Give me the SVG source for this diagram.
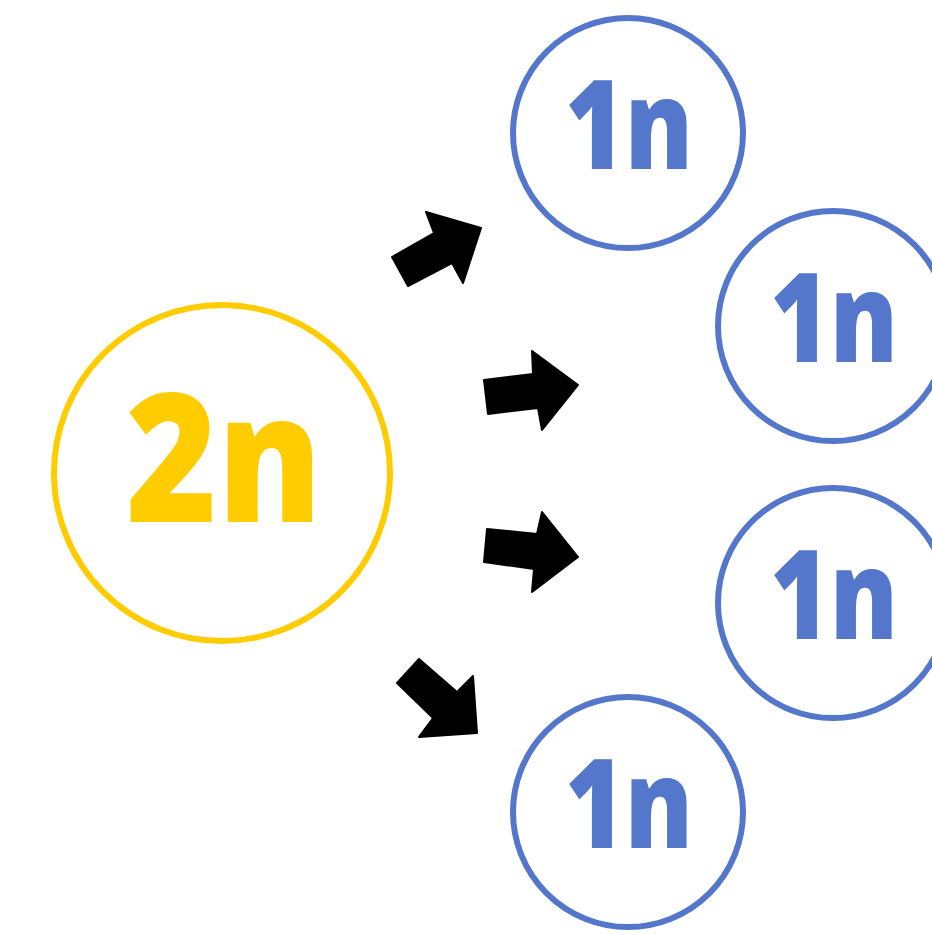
<svg xmlns="http://www.w3.org/2000/svg" width="932" height="935" viewBox="0 0 932 935">
<style>
.big{fill:none;stroke:#FFCC00;stroke-width:6}
.small{fill:none;stroke:#5577CB;stroke-width:6}
.t{font-family:"Noto Sans","Open Sans",sans-serif;font-weight:900;text-anchor:middle}
.ty{fill:#FFCC00;font-size:180px}
.tb{fill:#5577CB;font-size:124px}
.arr{fill:#000;stroke:#000;stroke-width:2;stroke-linejoin:round}
</style>
<rect width="932" height="935" fill="#fff"/>
<g id="n2n">
<circle class="big" cx="222" cy="473" r="168"/>
<text class="t ty" x="224" y="522" textLength="196" lengthAdjust="spacingAndGlyphs">2n</text>
</g>
<g id="n1a">
<circle class="small" cx="628" cy="133" r="115"/>
<text class="t tb" x="629" y="169" textLength="128" lengthAdjust="spacingAndGlyphs">1n</text>
</g>
<g id="n1b">
<circle class="small" cx="833" cy="326" r="115"/>
<text class="t tb" x="834" y="362" textLength="128" lengthAdjust="spacingAndGlyphs">1n</text>
</g>
<g id="n1c">
<circle class="small" cx="833" cy="603" r="115"/>
<text class="t tb" x="834" y="639" textLength="128" lengthAdjust="spacingAndGlyphs">1n</text>
</g>
<g id="n1d">
<circle class="small" cx="628" cy="812" r="115"/>
<text class="t tb" x="629" y="848" textLength="128" lengthAdjust="spacingAndGlyphs">1n</text>
</g>
<g id="connectors">
<polygon class="arr" points="392,257 434,233 426,212 481,228 463,283 452,263 408,286"/>
<polygon class="arr" points="484,380 533,374 532,351 578,385 542,430 538,408 488,414"/>
<polygon class="arr" points="487,529 537,534 542,512 578,557 532,592 534,569 484,562"/>
<polygon class="arr" points="419,659 457,692 473,676 477,733 419,737 433,718 397,683"/>
</g>
</svg>
